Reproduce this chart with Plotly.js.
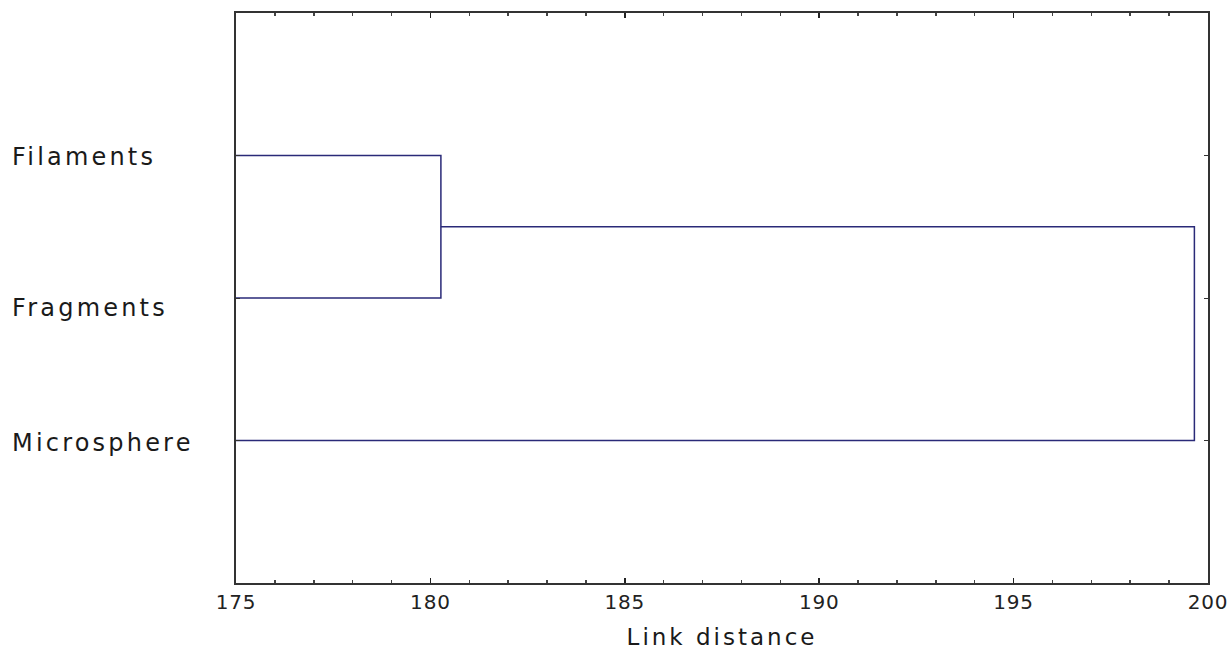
<!DOCTYPE html>
<html>
<head>
<meta charset="utf-8">
<script src="https://cdn.plot.ly/plotly-3.0.1.min.js"></script>
<style>
html,body{margin:0;padding:0;background:#fff;}
#chart{width:1232px;height:650px;}
.annotation-text{letter-spacing:3.2px;}
.xtitle{letter-spacing:3px;}
.xtick text{letter-spacing:0.8px;}
</style>
</head>
<body>
<div id="chart"></div>
<script>
// Leaves of the dendrogram (top to bottom) and their positions
var leaves = ['Filaments', 'Fragments', 'Microsphere'];
var leafPos = [1, 2, 3];
// Link distances: first Filaments+Fragments, then that cluster + Microsphere
var linkDist = [180.27, 199.65];
var axisMin = 175, axisMax = 200;

var lineColor = '#2a2a78';
var traces = [];
// Link 1: Filaments & Fragments
traces.push({
  type: 'scatter', mode: 'lines', hoverinfo: 'skip', showlegend: false,
  x: [axisMin, linkDist[0], linkDist[0], axisMin],
  y: [leafPos[0], leafPos[0], leafPos[1], leafPos[1]],
  line: {color: lineColor, width: 1.5}
});
// Link 2: cluster (mid of Filaments/Fragments) & Microsphere
var mid = (leafPos[0] + leafPos[1]) / 2;
traces.push({
  type: 'scatter', mode: 'lines', hoverinfo: 'skip', showlegend: false,
  x: [linkDist[0], linkDist[1], linkDist[1], axisMin],
  y: [mid, mid, leafPos[2], leafPos[2]],
  line: {color: lineColor, width: 1.5}
});

var shifts = [-1, -10, -2];
var annotations = leaves.map(function(name, i){
  return {
    text: name, xref: 'paper', yref: 'y', x: -0.2325, y: leafPos[i],
    xanchor: 'left', yanchor: 'middle', showarrow: false, yshift: shifts[i],
    font: {family: 'DejaVu Sans', size: 24, color: '#1a1a1a'}
  };
});

var layout = {
  width: 1232, height: 650,
  margin: {l: 236, r: 24, t: 13, b: 67},
  paper_bgcolor: '#ffffff', plot_bgcolor: '#ffffff',
  showlegend: false,
  annotations: annotations,
  xaxis: {
    range: [axisMin, axisMax], dtick: 5, tick0: 175,
    ticks: 'inside', ticklen: 5, tickcolor: '#222', tickwidth: 1.5,
    minor: {dtick: 1, ticks: 'inside', ticklen: 3, tickcolor: '#444'},
    showline: true, linecolor: '#333', linewidth: 2, mirror: 'ticks',
    showgrid: false, zeroline: false,
    tickfont: {family: 'DejaVu Sans', size: 20, color: '#222'},
    title: {text: 'Link distance', font: {family: 'DejaVu Sans', size: 23, color: '#1a1a1a'}, standoff: 16}
  },
  yaxis: {
    range: [4, 0], tickvals: leafPos, showticklabels: false,
    ticks: 'inside', ticklen: 4, tickcolor: '#333',
    showline: true, linecolor: '#333', linewidth: 2, mirror: 'ticks',
    showgrid: false, zeroline: false
  }
};

Plotly.newPlot('chart', traces, layout, {staticPlot: true, displayModeBar: false});
</script>
</body>
</html>
